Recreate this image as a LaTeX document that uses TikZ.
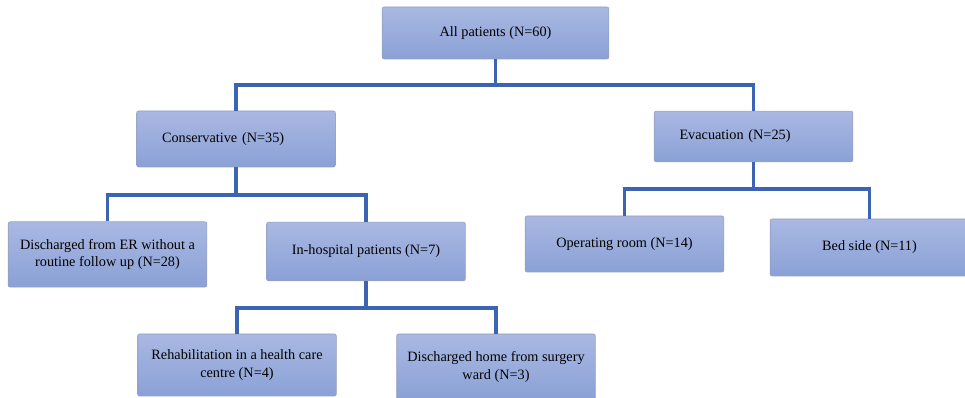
\documentclass[tikz,border=0pt]{standalone}
\usepackage{fontspec}
\setmainfont{Liberation Serif}
\usepackage{tikz}
\usetikzlibrary{positioning}

\definecolor{boxtop}{RGB}{170,184,226}
\definecolor{boxbot}{RGB}{138,161,214}
\definecolor{boxline}{RGB}{150,160,190}
\definecolor{linkblue}{RGB}{60,100,178}

\begin{document}
\begin{tikzpicture}[
x=0.75pt, y=-0.75pt,
patbox/.style={rectangle, rounded corners=1.5pt, draw=boxline, line width=0.5pt, top color=boxtop, bottom color=boxbot, minimum width=149pt, minimum height=42pt, align=center, font=\fontsize{10.7}{13}\selectfont, inner sep=2pt},
leftbox/.style={patbox, text width=111pt, inner xsep=19pt, align=left},
link/.style={draw=linkblue, line width=2.3pt},
]
\useasboundingbox (0,0) rectangle (965,398);

%Nodes
\node[patbox, minimum width=170pt, minimum height=39pt] (all)   at (495.5,33)  {All patients (N=60)};
\node[leftbox]                                          (cons)  at (236,139)   {Conservative (N=35)};
\node[leftbox, minimum height=38pt]                     (evac)  at (753.5,136.5) {Evacuation (N=25)};
\node[patbox, minimum height=49pt]                      (er)    at (107.5,254.5) {Discharged from ER without a\\routine follow up (N=28)};
\node[patbox, minimum height=44pt]                      (inhosp) at (366,251.5) {In-hospital patients (N=7)};
\node[patbox, minimum height=46.5pt]                    (rehab) at (237,365)   {Rehabilitation in a health care\\centre (N=4)};
\node[patbox, minimum height=49.5pt]                    (home)  at (496,367)   {Discharged home from surgery\\ward (N=3)};
\node[patbox]                                           (oper)  at (624.5,244) {Operating room (N=14)};
\node[patbox, minimum height=42.75pt]                   (bed)   at (869.5,247.5) {Bed side (N=11)};

%Junctions
\coordinate (j0) at (495.5,85);
\coordinate (j1) at (236,195);
\coordinate (j2) at (753.5,189);
\coordinate (j3) at (366,308);

%Lines
\draw[link] (all.south) -- (j0);
\draw[link] (cons.north) |- (j0) -| (evac.north);
\draw[link] (cons.south) -- (j1);
\draw[link] (er.north) |- (j1) -| (inhosp.north);
\draw[link] (evac.south) -- (j2);
\draw[link] (oper.north) |- (j2) -| (bed.north);
\draw[link] (inhosp.south) -- (j3);
\draw[link] (rehab.north) |- (j3) -| (home.north);
\end{tikzpicture}
\end{document}
